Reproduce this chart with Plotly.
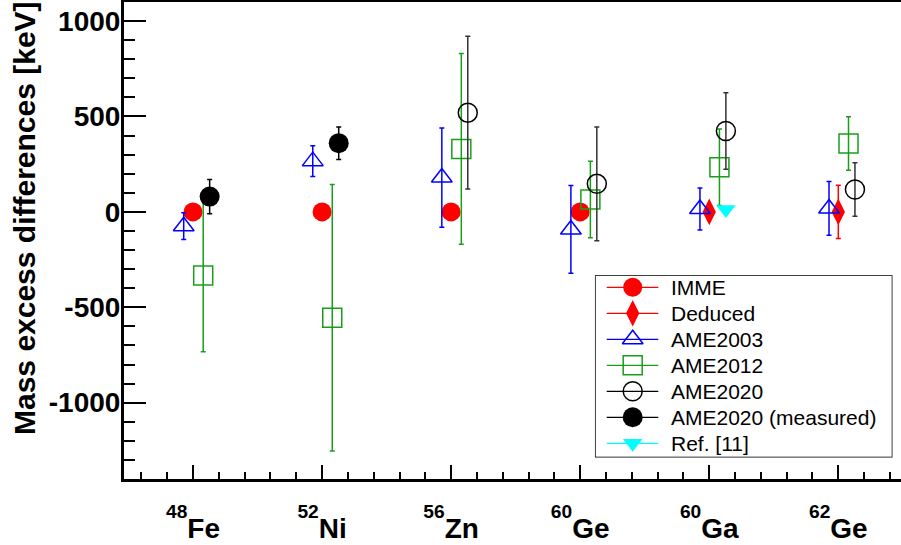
import plotly.graph_objects as go

# ---------------- data ----------------
mass_numbers = ["48", "52", "56", "60", "60", "62"]
elements = ["Fe", "Ni", "Zn", "Ge", "Ga", "Ge"]
cat_pos = [1, 2, 3, 4, 5, 6]

y_tick_vals = [-1000, -500, 0, 500, 1000]
y_tick_text = ["-1000", "-500", "0", "500", "1000"]

imme_idx = [0, 1, 2, 3]
imme_val = [0, 0, 0, 0]
imme_err = [0, 0, 0, 0]

deduced_idx = [4, 5]
deduced_val = [0, 0]
deduced_err = [0, 140]

ame2003_idx = [0, 1, 2, 3, 4, 5]
ame2003_val = [-75, 266, 180, -92, 15, 18]
ame2003_err = [70, 80, 260, 230, 110, 141]

ame2012_idx = [0, 1, 2, 3, 4, 5]
ame2012_val = [-333, -555, 330, 65, 234, 358]
ame2012_err = [400, 698, 500, 200, 200, 140]

ame2020_idx = [2, 3, 4, 5]
ame2020_val = [520, 147, 424, 117]
ame2020_err = [400, 298, 200, 140]

ame2020m_idx = [0, 1]
ame2020m_val = [80, 360]
ame2020m_err = [90, 85]

ref11_idx = [4]
ref11_val = [12]
ref11_err = [0]

series_names = ["IMME", "Deduced", "AME2003", "AME2012", "AME2020", "AME2020 (measured)", "Ref. [11]"]

# tick labels: superscripted mass number + element symbol
nuclei = ["<sup><sup><span style='font-size:140%'>" + a + "</span></sup></sup>" + e
          for a, e in zip(mass_numbers, elements)]

# ---------------- layout geometry ----------------
W, H = 901, 545
ML, MR, MT, MB = 124, 0, 2, 66
PW = W - ML - MR
PH = H - MT - MB
FONT = "Liberation Sans, Arial, Helvetica, sans-serif"

GREEN = "#1a9e1a"
styles = [
    dict(idx=imme_idx, val=imme_val, err=imme_err, off=0.0, color="#ff0000",
         symbol="circle", size=19, ecolor="#ff0000", lw=0),
    dict(idx=deduced_idx, val=deduced_val, err=deduced_err, off=0.0, color="#ff0000",
         symbol="diamond-tall", size=19, ecolor="#ff0000", lw=0),
    dict(idx=ame2003_idx, val=ame2003_val, err=ame2003_err, off=-0.072, color="#0000ff",
         symbol="triangle-up-open", size=18, ecolor="#0000ff", lw=1.5),
    dict(idx=ame2012_idx, val=ame2012_val, err=ame2012_err, off=0.079, color=GREEN,
         symbol="square-open", size=19, ecolor=GREEN, lw=1.5),
    dict(idx=ame2020_idx, val=ame2020_val, err=ame2020_err, off=0.129, color="#000000",
         symbol="circle-open", size=19, ecolor="#333333", lw=1.5),
    dict(idx=ame2020m_idx, val=ame2020m_val, err=ame2020m_err, off=0.129, color="#000000",
         symbol="circle", size=20, ecolor="#000000", lw=0),
    dict(idx=ref11_idx, val=ref11_val, err=ref11_err, off=0.129, color="#00ffff",
         symbol="triangle-down", size=17, ecolor="#00ffff", lw=0),
]

fig = go.Figure()

for name, st in zip(series_names, styles):
    xs = [cat_pos[i] + st["off"] for i in st["idx"]]
    fig.add_trace(go.Scatter(
        x=xs, y=st["val"], mode="markers", name=name, showlegend=False,
        marker=dict(symbol=st["symbol"], size=st["size"], color=st["color"],
                    line=dict(width=st["lw"], color=st["color"])),
        error_y=dict(type="data", array=st["err"], visible=True, color=st["ecolor"],
                     thickness=1.5, width=2.5),
        xaxis="x", yaxis="y", cliponaxis=False,
    ))

# ---------------- custom legend (box in pixels) ----------------
LBX0, LBX1, LBY0, LBY1 = 595.7, 891.7, 276.0, 456.7
def px2paper_x(px):
    return (px - ML) / PW
def px2paper_y(py):
    return (MT + PH - py) / PH

BW = LBX1 - LBX0
BH = LBY1 - LBY0
row0, rowstep = 11.3, 26.0
for k, (name, st) in enumerate(zip(series_names, styles)):
    ry = row0 + rowstep * k
    fig.add_trace(go.Scatter(
        x=[11, 62.6], y=[ry, ry], mode="lines", showlegend=False, hoverinfo="skip",
        line=dict(color=st["color"], width=1.2), xaxis="x2", yaxis="y2"))
    fig.add_trace(go.Scatter(
        x=[37], y=[ry], mode="markers", showlegend=False, hoverinfo="skip",
        marker=dict(symbol=st["symbol"], size=st["size"], color=st["color"],
                    line=dict(width=st["lw"], color=st["color"])),
        xaxis="x2", yaxis="y2", cliponaxis=False))
    fig.add_annotation(x=73.6, y=ry, xref="x2", yref="y2", text=name, showarrow=False,
                       xanchor="left", yanchor="middle",
                       font=dict(family=FONT, size=21, color="black"))

fig.add_shape(type="rect", xref="paper", yref="paper",
              x0=px2paper_x(LBX0), x1=px2paper_x(LBX1),
              y0=px2paper_y(LBY1), y1=px2paper_y(LBY0),
              line=dict(color="black", width=1.5), fillcolor="white", layer="below")

# y-axis title
fig.add_annotation(x=px2paper_x(24), y=px2paper_y(-1), xref="paper", yref="paper",
                   text="Mass excess differences [keV]", textangle=-90, showarrow=False,
                   xanchor="center", yanchor="top",
                   font=dict(family=FONT, size=30, color="black", weight="bold"))

fig.update_layout(
    width=W, height=H,
    margin=dict(l=ML, r=MR, t=MT, b=MB, pad=0),
    paper_bgcolor="white", plot_bgcolor="white",
    showlegend=False,
    xaxis=dict(
        range=[1 - 69 / 129.06, 6 + 62.7 / 129.06],
        tickmode="array", tickvals=cat_pos, ticktext=nuclei,
        ticks="inside", ticklen=14, tickwidth=1.5, tickcolor="black",
        minor=dict(tickmode="linear", tick0=1, dtick=0.2, ticks="inside", ticklen=7,
                   tickwidth=1.5, tickcolor="black"),
        showline=True, linewidth=3, linecolor="black", mirror=True,
        showgrid=False, zeroline=False,
        tickfont=dict(family=FONT, size=28, color="black", weight="bold"),
        ticklabelstandoff=22,
    ),
    yaxis=dict(
        range=[-1400, 1100],
        tickmode="array", tickvals=y_tick_vals, ticktext=y_tick_text,
        ticks="inside", ticklen=22, tickwidth=1.5, tickcolor="black",
        minor=dict(tickmode="linear", tick0=0, dtick=100, ticks="inside", ticklen=11,
                   tickwidth=1.5, tickcolor="black"),
        showline=True, linewidth=3, linecolor="black", mirror=False,
        showgrid=False, zeroline=False,
        tickfont=dict(family=FONT, size=28, color="black", weight="bold"),
        ticklabelstandoff=-5,
    ),
    xaxis2=dict(domain=[px2paper_x(LBX0), px2paper_x(LBX1)], range=[0, BW],
                visible=False, anchor="y2", fixedrange=True),
    yaxis2=dict(domain=[px2paper_y(LBY1), px2paper_y(LBY0)], range=[BH, 0],
                visible=False, anchor="x2", fixedrange=True),
)

fig.write_html("out.html", config={"displayModeBar": False},
               post_script="document.body.style.margin='0px';document.body.style.padding='0px';")
